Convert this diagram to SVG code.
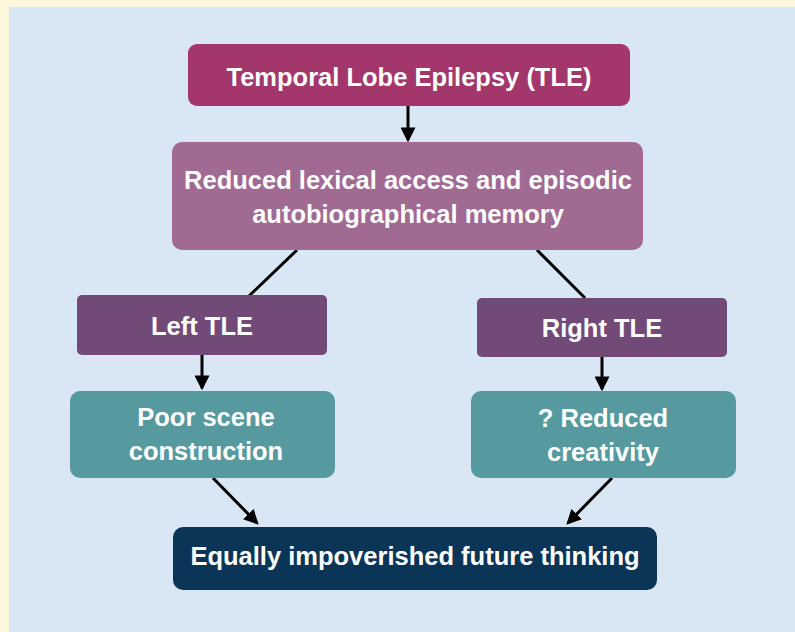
<svg xmlns="http://www.w3.org/2000/svg" width="795" height="632" viewBox="0 0 795 632">
<defs>
<style>
.t{font-family:"Liberation Sans",Arial,sans-serif;font-weight:bold;font-size:25.5px;fill:#ffffff;text-anchor:middle}
.c{stroke:#000000;stroke-width:3;fill:none}
</style>
<marker id="ah" markerWidth="5" markerHeight="5" refX="4.2" refY="2.5" orient="auto" markerUnits="strokeWidth">
<path d="M0,0 L5,2.5 L0,5 Z" fill="#000000"/>
</marker>
</defs>
<rect x="0" y="0" width="795" height="632" fill="#fdf8dc"/>
<rect x="9" y="7" width="786" height="625" fill="#d9e6f3"/>
<g id="connectors">
<line class="c" x1="408" y1="106" x2="408" y2="140" marker-end="url(#ah)"/>
<line class="c" x1="297" y1="250" x2="249" y2="296"/>
<line class="c" x1="537" y1="250" x2="585" y2="298"/>
<line class="c" x1="202" y1="355" x2="202" y2="388" marker-end="url(#ah)"/>
<line class="c" x1="602" y1="357" x2="602" y2="389" marker-end="url(#ah)"/>
<line class="c" x1="213" y1="478" x2="257" y2="523" marker-end="url(#ah)"/>
<line class="c" x1="612" y1="478" x2="568" y2="523" marker-end="url(#ah)"/>
</g>
<g id="n-tle">
<rect x="188" y="44" width="442" height="62" rx="9" fill="#a3366a"/>
<text class="t" x="409" y="86">Temporal Lobe Epilepsy (TLE)</text>
</g>
<g id="n-reduced">
<rect x="172" y="142" width="471" height="108" rx="10" fill="#a06a92"/>
<text class="t" x="408" y="189">Reduced lexical access and episodic</text>
<text class="t" x="408" y="223">autobiographical memory</text>
</g>
<g id="n-left">
<rect x="77" y="295" width="250" height="60" rx="5" fill="#714a78"/>
<text class="t" x="202" y="335">Left TLE</text>
</g>
<g id="n-right">
<rect x="477" y="298" width="250" height="59" rx="5" fill="#714a78"/>
<text class="t" x="602" y="337">Right TLE</text>
</g>
<g id="n-poor">
<rect x="70" y="391" width="265" height="87" rx="10" fill="#56999f"/>
<text class="t" x="206" y="426">Poor scene</text>
<text class="t" x="206" y="460">construction</text>
</g>
<g id="n-creat">
<rect x="471" y="391" width="265" height="87" rx="10" fill="#56999f"/>
<text class="t" x="603" y="427">? Reduced</text>
<text class="t" x="603" y="461">creativity</text>
</g>
<g id="n-equal">
<rect x="173" y="527" width="484" height="63" rx="10" fill="#0b3556"/>
<text class="t" x="415" y="565">Equally impoverished future thinking</text>
</g>
</svg>
